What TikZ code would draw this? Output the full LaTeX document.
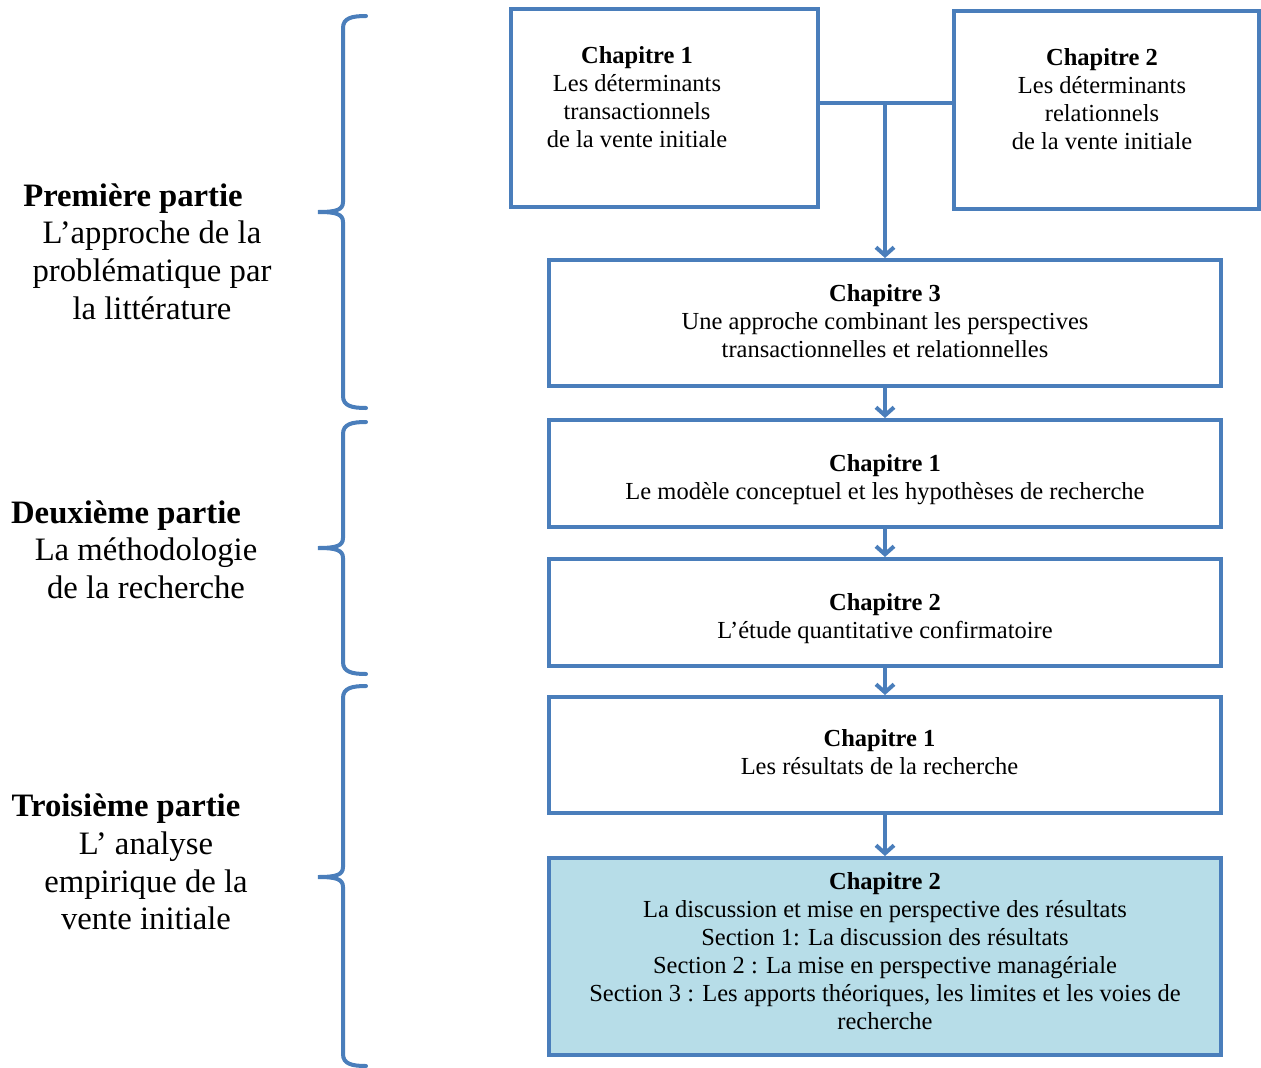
\documentclass[tikz,border=0pt]{standalone}
\usepackage{fontspec}
\setmainfont{Liberation Serif}
\usetikzlibrary{arrows.meta}
\definecolor{myblue}{HTML}{4A7EBB}
\definecolor{myfill}{HTML}{B7DDE8}
\begin{document}
\begin{tikzpicture}[x=1pt,y=-1pt,
  box/.style={draw=myblue, line width=4pt, inner sep=0pt},
  txt/.style={align=center, inner sep=0pt, font=\fontsize{24.5}{28}\selectfont},
  parttxt/.style={align=center, inner sep=0pt, font=\fontsize{32.7}{37.6}\selectfont},
  conn/.style={draw=myblue, line width=4pt},
  arrowtip/.style={-{Straight Barb[length=8pt,width=18pt]}},
  brace/.style={draw=myblue, line width=4pt, line cap=round}]
\useasboundingbox (0,0) rectangle (1261,1068);

% boxes
\node[box, minimum width=307pt, minimum height=198pt] (c1) at (664.5,108) {};
\node[box, minimum width=305pt, minimum height=198pt] (c2) at (1106.5,110) {};
\node[box, minimum width=672pt, minimum height=126pt] (c3) at (885,323) {};
\node[box, minimum width=672pt, minimum height=107pt] (d1) at (885,473.5) {};
\node[box, minimum width=672pt, minimum height=107pt] (d2) at (885,612.5) {};
\node[box, minimum width=672pt, minimum height=116pt] (t1) at (885,755) {};
\node[box, fill=myfill, minimum width=672pt, minimum height=197pt] (t2) at (885,956.5) {};

% box texts
\node[txt] (c1t) at (637,97) {\textbf{Chapitre 1}\\Les déterminants\\transactionnels\\de la vente initiale};
\node[txt] (c2t) at (1102,99) {\textbf{Chapitre 2}\\Les déterminants\\relationnels\\de la vente initiale};
\node[txt] (c3t) at (885,321.5) {\textbf{Chapitre 3}\\Une approche combinant les perspectives\\transactionnelles et relationnelles};
\node[txt] (d1t) at (885,480) {\textbf{Chapitre 1}\\Le modèle conceptuel et les hypothèses de recherche};
\node[txt] (d2t) at (885,619) {\textbf{Chapitre 2}\\L’étude quantitative confirmatoire};
\node[txt] (t1t) at (879.5,752) {\textbf{Chapitre 1}\\Les résultats de la recherche};
\node[txt] (t2t) at (885,951.5) {\textbf{Chapitre 2}\\La discussion et mise en perspective des résultats\\Section 1: La discussion des résultats\\Section 2 : La mise en perspective managériale\\Section 3 : Les apports théoriques, les limites et les voies de\\recherche};

% part texts
\node[parttxt] (p1) at (152,251.5) {\textbf{Première partie}\hspace*{38pt}\\L’approche de la\\problématique par\\la littérature};
\node[parttxt] (p2) at (146,549.5) {\textbf{Deuxième partie}\hspace*{40pt}\\La méthodologie\\de la recherche};
\node[parttxt] (p3) at (146,862) {\textbf{Troisième partie}\hspace*{40pt}\\L’ analyse\\empirique de la\\vente initiale};

% connectors
\coordinate (j) at (885,103);
\draw[conn] (c1.east |- j) -- (c2.west |- j);
\draw[conn, arrowtip] (j) -- (c3.north);
\draw[conn, arrowtip] (c3.south) -- (d1.north);
\draw[conn, arrowtip] (d1.south) -- (d2.north);
\draw[conn, arrowtip] (d2.south) -- (t1.north);
\draw[conn, arrowtip] (t1.south) -- (t2.north);

% braces
\draw[brace] (366,16) .. controls (352,16) and (343,18) .. (343,28) -- (343,202) .. controls (343,210) and (336,212) .. (318,212)
  .. controls (336,212) and (343,214) .. (343,222) -- (343,396) .. controls (343,406) and (352,408) .. (366,408);
\draw[brace] (366,422) .. controls (352,422) and (343,424) .. (343,434) -- (343,538) .. controls (343,546) and (336,548) .. (318,548)
  .. controls (336,548) and (343,550) .. (343,558) -- (343,662) .. controls (343,672) and (352,674) .. (366,674);
\draw[brace] (366,686) .. controls (352,686) and (343,688) .. (343,698) -- (343,867) .. controls (343,875) and (336,877) .. (318,877)
  .. controls (336,877) and (343,879) .. (343,887) -- (343,1054) .. controls (343,1064) and (352,1066) .. (366,1066);
\end{tikzpicture}
\end{document}
